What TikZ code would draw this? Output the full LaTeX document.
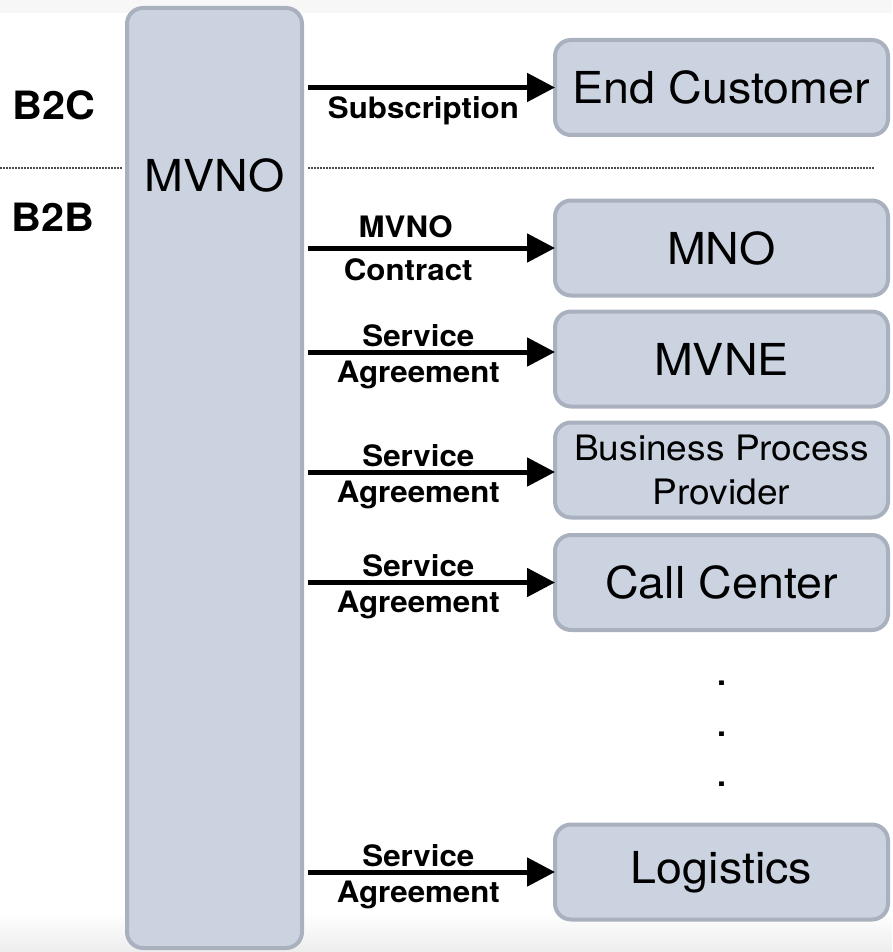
\documentclass[tikz,border=0pt]{standalone}
\usepackage{fontspec}
\setmainfont[FakeStretch=1.06]{TeX Gyre Heros}
\usetikzlibrary{arrows.meta}
\definecolor{boxfill}{RGB}{203,210,224}
\definecolor{boxline}{RGB}{169,176,190}
\begin{document}
\begin{tikzpicture}[x=1pt,y=-1pt,
  entity/.style={draw=boxline, fill=boxfill, line width=4pt, rounded corners=16pt,
    minimum width=333pt, minimum height=95pt, inner sep=0pt, outer sep=0pt,
    font=\fontsize{44}{50}\selectfont, align=center},
  bigtext/.style={font=\fontsize{44}{50}\selectfont, inner sep=0pt, anchor=base},
  lbl/.style={font=\bfseries\fontsize{29.5}{34}\selectfont, inner sep=0pt, anchor=base},
  segment/.style={font=\bfseries\fontsize{39}{44}\selectfont, inner sep=0pt, anchor=base},
  arr/.style={line width=5pt, -{Triangle[length=28pt,width=28pt]}, shorten <=6pt},
  sepline/.style={line width=1.2pt, draw=black!70, dash pattern=on 1.5pt off 1.5pt}
]
\useasboundingbox (0,0) rectangle (892,952);
% faint background bands
\fill[black!3] (0,0) rectangle (892,13);
\shade[top color=white, bottom color=black!7] (0,912) rectangle (892,952);

% separator
\draw[sepline] (0,168) -- (122,168);
\draw[sepline] (308,168) -- (875,168);

% segment labels
\node[segment] (b2c) at (54,120) {B2C};
\node[segment] (b2b) at (53,231) {B2B};

% MVNO column
\node[draw=boxline, fill=boxfill, line width=4pt, rounded corners=16pt,
      minimum width=175pt, minimum height=940pt, inner sep=0pt, outer sep=0pt]
      (mvno) at (214.5,478) {};
\node[bigtext] (mvnotext) at (214.5,192) {MVNO};

% partner boxes
\node[entity] (ec)  at (721.5,87.5) {End Customer};
\node[entity] (mno) at (721.5,248) {MNO};
\node[entity] (mvne) at (721.5,359) {MVNE};
\node[entity, font=\fontsize{35}{44}\selectfont] (bpp) at (721.5,470) {Business Process\\Provider};
\node[entity] (cc)  at (721.5,582.5) {Call Center};
\node[entity] (log) at (721.5,872) {Logistics};

% dots
\node[bigtext] (d1) at (722,685) {.};
\node[bigtext] (d2) at (722,736) {.};
\node[bigtext] (d3) at (722,786) {.};

% connectors
\draw[arr] (mvno.east |- ec.west) -- node[lbl, pos=0.48, yshift=-31pt] {Subscription} (ec.west);
\draw[arr] (mvno.east |- mno.west) -- node[lbl, pos=0.41, yshift=11pt] {MVNO}
   node[lbl, pos=0.42, yshift=-32pt] {Contract} (mno.west);
\coordinate (mvnein) at ([yshift=7pt]mvne.west);
\draw[arr] (mvno.east |- mvnein) -- node[lbl, pos=0.46, yshift=6pt] {Service}
   node[lbl, pos=0.46, yshift=-30pt] {Agreement} (mvnein);
\coordinate (bppin) at ([yshift=-2pt]bpp.west);
\draw[arr] (mvno.east |- bppin) -- node[lbl, pos=0.46, yshift=6pt] {Service}
   node[lbl, pos=0.46, yshift=-30pt] {Agreement} (bppin);
\draw[arr] (mvno.east |- cc.west) -- node[lbl, pos=0.46, yshift=6pt] {Service}
   node[lbl, pos=0.46, yshift=-30pt] {Agreement} (cc.west);
\draw[arr] (mvno.east |- log.west) -- node[lbl, pos=0.46, yshift=6pt] {Service}
   node[lbl, pos=0.46, yshift=-30pt] {Agreement} (log.west);
\end{tikzpicture}
\end{document}
